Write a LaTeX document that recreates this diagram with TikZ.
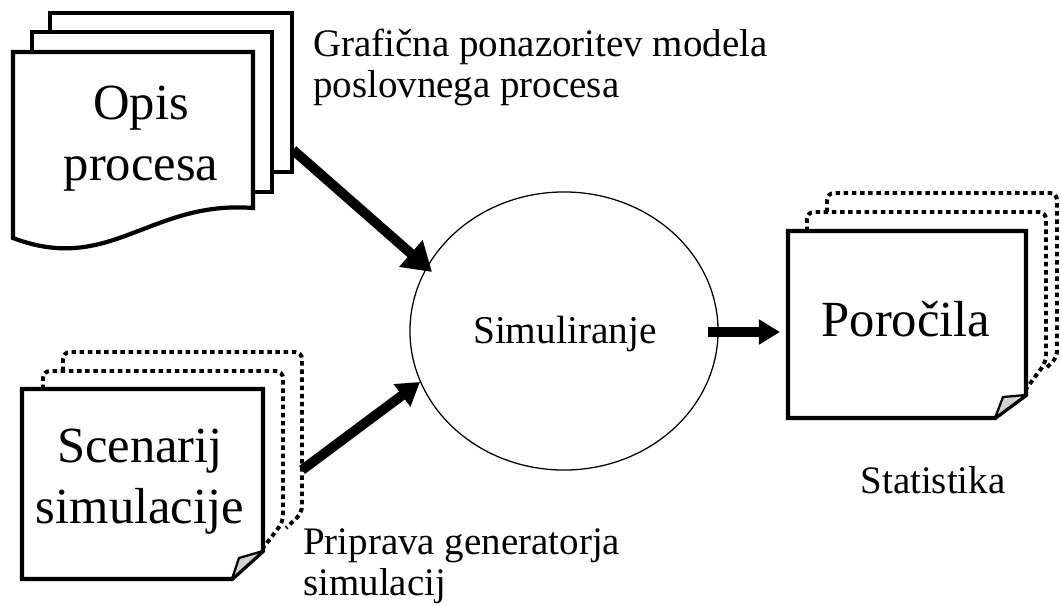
\documentclass[tikz,border=0pt]{standalone}
\usepackage{fontspec}
\setmainfont{Liberation Serif}
\usetikzlibrary{arrows.meta,shapes.geometric}

\tikzset{
  sheet/.style={line width=3pt, fill=white, line join=miter},
  dotsheet/.style={line width=2.8pt, dash pattern=on 3.2pt off 2.6pt, rounded corners=5pt},
  fold/.style={line width=1.6pt, fill=gray!35, line join=round},
  bigtext/.style={font=\fontsize{36}{42.7}\selectfont, align=center, inner sep=0pt},
  midtext/.style={font=\fontsize{28}{32}\selectfont, inner sep=0pt},
  smalltext/.style={font=\fontsize{27.7}{29}\selectfont, align=left, inner sep=0pt},
  flow/.style={line width=7pt, -{Triangle[length=16pt,width=18pt]}},
}

\begin{document}
\begin{tikzpicture}[x=0.025cm,y=-0.025cm]
    \useasboundingbox (0,0) rectangle (1062,605);

    % process description: three solid sheets
    \draw[sheet] (50,13) rectangle (292,172);
    \draw[sheet] (32,32) rectangle (272,192);
    \draw[sheet] (13,52) -- (253,52) -- (253,208)
      .. controls (150,200) and (110,275) .. (13,238) -- cycle;

    % scenario: two dotted sheets behind a folded one
    \draw[dotsheet] (63,371) -- (63,352) -- (302,352) -- (302,513) -- (286,528);
    \draw[dotsheet] (43,389) -- (43,371) -- (283,371) -- (283,522) -- (263,548);
    \draw[sheet] (22,389) -- (263,389) -- (263,551) -- (232,579) -- (22,579) -- cycle;
    \draw[fold] (232,579) -- (239,558) -- (263,551) -- cycle;

    % reports
    \draw[dotsheet] (827,212) -- (827,193) -- (1057,193) -- (1057,358) -- (1046,368);
    \draw[dotsheet] (807,231) -- (807,212) -- (1046,212) -- (1046,362) -- (1026,389);
    \draw[sheet] (788,231) -- (1026,231) -- (1026,395) -- (995,418) -- (788,418) -- cycle;
    \draw[fold] (995,418) -- (1003,397) -- (1026,395) -- cycle;

    % simulation
    \node[draw, ellipse, line width=0.9pt, minimum width=7.7cm, minimum height=6.95cm,
      inner sep=0pt] (sim) at (564,331) {};

    % base of a two-line node sits on its last line
    \node[bigtext, anchor=base] (opis) at (141,180) {Opis\\procesa};
    \node[bigtext, anchor=base] (scen) at (140,523) {Scenarij\\simulacije};
    \node[bigtext, anchor=base] (porocila) at (906,336) {Poročila};
    \node[midtext, anchor=base] (simtext) at (565,343) {Simuliranje};
    \node[smalltext, anchor=base west] (graf) at (313,97)
      {Grafična ponazoritev modela\\poslovnega procesa};
    \node[smalltext, anchor=base west] (priprava) at (303,595)
      {Priprava generatorja\\simulacij};
    \node[smalltext, anchor=base] (stat) at (933,493) {Statistika};

    \coordinate (opisout) at (293,150);
    \coordinate (simin1) at (432,272);
    \coordinate (scenout) at (302,470);
    \coordinate (simin2) at (420,382);
    \coordinate (simout) at (708,332);
    \coordinate (porin) at (780,332);

    \draw[flow, -{Triangle[length=20pt,width=24pt]}] (opisout) -- (simin1);
    \draw[flow, -{Triangle[length=16pt,width=19pt]}] (scenout) -- (simin2);
    \draw[flow, -{Triangle[length=15pt,width=17pt]}] (simout) -- (porin);
\end{tikzpicture}
\end{document}
